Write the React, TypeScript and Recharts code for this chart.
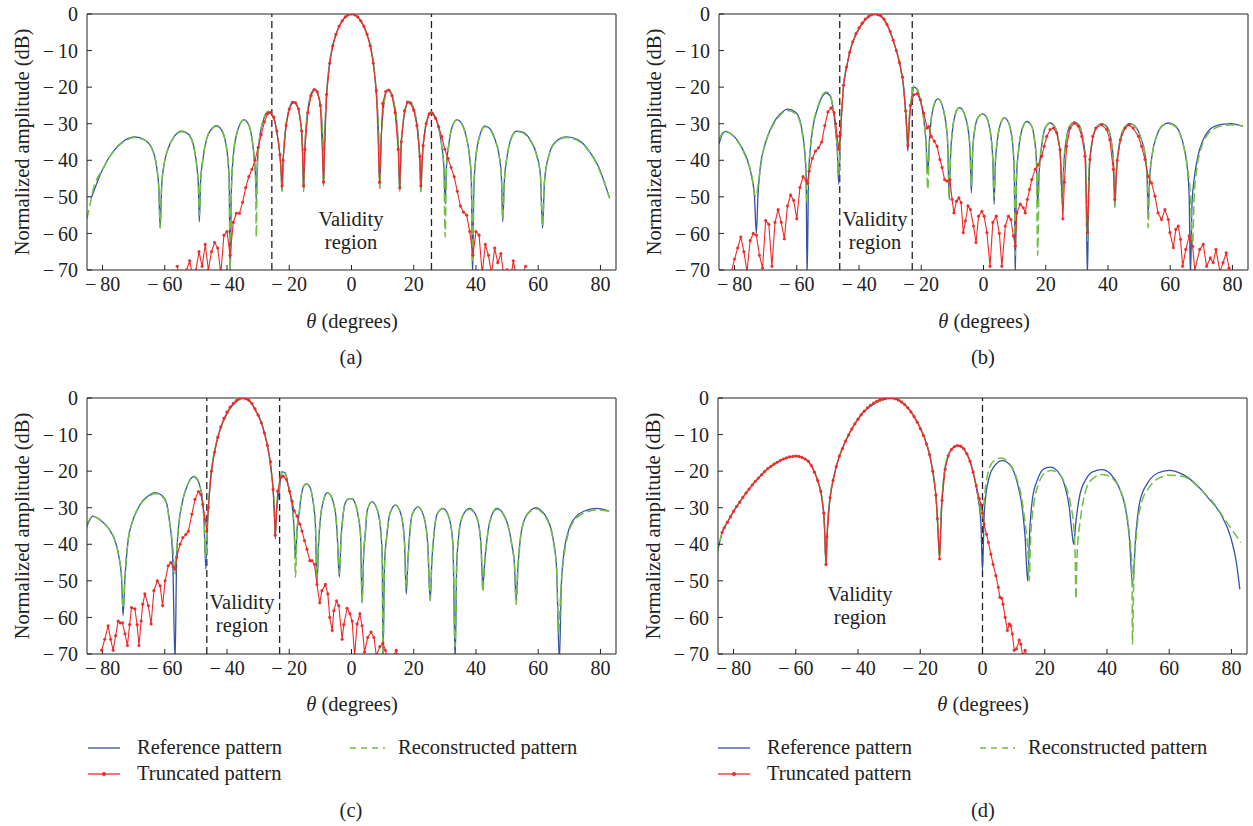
import React from 'react';
import { LineChart, Line, XAxis, YAxis, ReferenceLine } from 'recharts';

type Pt = [number, number]; // [theta (deg), amplitude (dB)]

const X_TICKS = [-80, -60, -40, -20, 0, 20, 40, 60, 80];
const Y_TICKS = [-70, -60, -50, -40, -30, -20, -10, 0];

const BLUE = '#3453a8';
const RED = '#ee2a2a';
const GREEN = '#6fbf45';
const INK = '#222';
const FONT = "'Liberation Serif', 'DejaVu Serif', 'Times New Roman', Times, serif";

// ---------- panel (a) ----------
const refA: Pt[] = [
  [-83.5,-50],[-80,-42.5],[-76.5,-37.5],[-73,-34.6],[-69.6,-33.6],[-66.5,-34.4],[-64,-37],[-62.6,-42],[-61.9,-48],[-61.5,-58.5],
  [-61,-47],[-60.3,-41.5],[-59,-37],[-57,-33.5],[-54.6,-32],[-52.2,-33],[-50.5,-37],[-49.6,-42.5],[-49.2,-47],[-48.9,-56.8],
  [-48.5,-46],[-47.8,-40],[-46.5,-34],[-45,-31.5],[-43.5,-30.5],[-41.8,-31.6],[-40.5,-35],[-39.7,-40],[-39.3,-46],[-39,-72],
  [-38.6,-48],[-38,-39],[-36.8,-32.5],[-35.5,-29.6],[-34.7,-28.9],[-33.2,-30],[-32,-34],[-31.2,-40],[-30.8,-45],[-30.6,-51],
  [-30.3,-42],[-29.6,-34.5],[-28.5,-29.5],[-27.5,-27.4],[-26.6,-26.8],[-25.2,-28],[-24,-32],[-23.2,-37],[-22.7,-42],[-22.3,-48.5],
  [-21.9,-39],[-21.2,-31.5],[-20.2,-26.5],[-19.2,-24.3],[-18.6,-24],[-17.6,-24.8],[-16.7,-27.5],[-16,-32.5],[-15.7,-38],[-15.4,-48.5],
  [-15,-37],[-14.4,-29],[-13.4,-23.2],[-12.5,-21],[-11.7,-20.6],[-10.8,-21.8],[-10,-25],[-9.5,-30],[-9.2,-36],[-9,-47],
  [-8.6,-33],[-8,-22],[-7.2,-14.5],[-6.2,-9.2],[-5,-5.6],[-3.5,-2.6],[-2,-0.8],[0,0],[2,-0.8],[3.5,-2.6],[5,-5.6],[6.2,-9.2],[7.2,-14.5],[8,-22],[8.7,-33],[9.1,-47.7],
  [9.5,-35],[9.9,-29],[10.5,-24],[11.2,-21.2],[11.8,-20.7],[12.8,-21.6],[13.8,-25],[14.6,-30],[15.1,-37],[15.5,-48.4],
  [15.9,-37],[16.5,-30.5],[17.3,-26],[18.4,-23.9],[19.5,-24.8],[20.5,-27.5],[21.3,-32],[21.9,-39],[22.3,-48.6],
  [22.7,-40],[23.4,-33],[24.4,-28.6],[25.5,-27],[26.8,-28],[28,-31],[29,-36],[29.7,-42],[30.1,-52],
  [30.5,-42],[31.3,-35.5],[32.5,-30.5],[33.9,-28.9],[35.3,-29.8],[36.7,-33],[37.8,-38],[38.5,-45],[38.9,-72],
  [39.3,-48],[40,-39],[41.3,-33],[42.9,-30.6],[44.6,-31.5],[46.2,-34.5],[47.5,-39],[48.2,-45],[48.6,-56.8],
  [49.1,-46],[50,-39],[51.3,-34],[53,-32],[55,-32.3],[57.5,-34.5],[59.5,-38.5],[60.7,-44],[61.4,-58.6],
  [62,-46],[63.3,-39],[65.5,-35],[69.1,-33.6],[72.5,-34.3],[76,-37],[79.5,-42],[82.8,-50],
];

const reconA: Pt[] = [
  [-85,-56],[-84,-52],[-83.3,-49],[-80,-42.5],[-76.5,-37.6],[-73,-34.8],[-69.6,-33.8],[-66.5,-34.5],[-64,-37.2],[-62.6,-42],[-61.9,-48],[-61.5,-58.5],
  [-61,-47],[-60.3,-41.5],[-59,-37],[-57,-33.6],[-54.6,-32.2],[-52.2,-33.2],[-50.5,-37.2],[-49.6,-42.5],[-49.2,-47],[-48.9,-55],
  [-48.5,-46],[-47.8,-40],[-46.5,-34],[-45,-31.6],[-43.5,-30.7],[-41.8,-31.8],[-40.5,-35],[-39.7,-40],[-39.3,-46],[-39,-70],
  [-38.6,-48],[-38,-39],[-36.8,-32.5],[-35.5,-29.6],[-34.7,-29],[-33.2,-30],[-32,-34],[-31.2,-40],[-30.8,-46],[-30.6,-61],
  [-30.3,-43],[-29.6,-34.5],[-28.5,-29.3],[-27.5,-27.1],[-26.6,-26.5],[-25.2,-28],[-24,-32],[-23.2,-37],[-22.7,-42],[-22.3,-48.5],
  [-21.9,-39],[-21.2,-31.5],[-20.2,-26.5],[-19.2,-24.3],[-18.6,-24],[-17.6,-24.8],[-16.7,-27.5],[-16,-32.5],[-15.7,-38],[-15.4,-48.5],
  [-15,-37],[-14.4,-29],[-13.4,-23.2],[-12.5,-21],[-11.7,-20.6],[-10.8,-21.8],[-10,-25],[-9.5,-30],[-9.2,-36],[-9,-47],
  [-8.6,-33],[-8,-22],[-7.2,-14.5],[-6.2,-9.2],[-5,-5.6],[-3.5,-2.6],[-2,-0.8],[0,0],[2,-0.8],[3.5,-2.6],[5,-5.6],[6.2,-9.2],[7.2,-14.5],[8,-22],[8.7,-33],[9.1,-47.7],
  [9.5,-35],[9.9,-29],[10.5,-24],[11.2,-21.2],[11.8,-20.7],[12.8,-21.6],[13.8,-25],[14.6,-30],[15.1,-37],[15.5,-48.4],
  [15.9,-37],[16.5,-30.5],[17.3,-26],[18.4,-23.9],[19.5,-24.8],[20.5,-27.5],[21.3,-32],[21.9,-39],[22.3,-48.6],
  [22.7,-40],[23.4,-33],[24.4,-28.4],[25.5,-26.7],[26.8,-27.8],[28,-31],[29,-36],[29.7,-43],[30.1,-61],
  [30.5,-43],[31.3,-35.5],[32.5,-30.5],[33.9,-29],[35.3,-29.9],[36.7,-33],[37.8,-38],[38.5,-45],[38.9,-68],
  [39.3,-48],[40,-39],[41.3,-33.2],[42.9,-30.8],[44.6,-31.7],[46.2,-34.7],[47.5,-39],[48.2,-45],[48.6,-56],
  [49.1,-46],[50,-39],[51.3,-34.2],[53,-32.2],[55,-32.5],[57.5,-34.7],[59.5,-38.7],[60.7,-44],[61.4,-58],
  [62,-46],[63.3,-39.2],[65.5,-35.2],[69.1,-33.8],[72.5,-34.5],[76,-37.2],[79.5,-42.3],[83,-50.5],
];

const truncA: Pt[] = [
  [-56,-69],[-55,-74],[-54,-72],[-53,-70],[-52,-67.5],[-51,-72],[-50,-70],[-49,-65],[-48,-69],[-47,-63],[-46,-70],[-45,-65],[-44,-62.5],[-43,-64],[-42,-71],[-41,-60.5],[-40,-59.5],[-39,-66],[-38,-57],[-37,-54.5],[-36,-54.5],[-35,-51.5],[-34,-47.5],[-33,-44.5],[-32,-42.5],[-31,-40],[-30,-36.5],[-29,-33],[-28,-29.5],[-27,-27.3],
  [-26,-27],[-25,-28.2],[-24,-32],[-23,-38.5],[-22.3,-47],[-22,-40],[-21,-30.5],[-20,-26],[-19,-24.2],[-18,-24.3],[-17,-26],[-16,-32],[-15.4,-47],[-15,-37],[-14,-27],[-13,-22.3],[-12,-20.7],[-11,-21.3],[-10,-25],[-9,-46],[-8,-22],[-7,-13.5],[-6,-8.7],[-5,-5.6],[-4,-3.4],[-3,-1.9],[-2,-0.8],[-1,-0.2],[0,0],
  [1,-0.2],[2,-0.8],[3,-1.9],[4,-3.4],[5,-5.6],[6,-8.7],[7,-13.5],[8,-21],[9,-46],[10,-24.5],[11,-21.2],[12,-20.8],[13,-22.3],[14,-27],[15,-37],[15.5,-47.5],[16,-35],[17,-26.5],[18,-24.1],[19,-24.4],[20,-26.3],[21,-30.5],[22,-39],[22.3,-47],[23,-36],[24,-30],[25,-27.3],[26,-27.2],
  [27,-28.5],[28,-30.8],[29,-33.5],[30,-37],[31,-39.5],[32,-42],[33,-44.5],[34,-48.5],[35,-52.5],[36,-54.2],[37,-55],[38,-59.5],[39,-66],[40,-59.5],[41,-60.5],[42,-71],[43,-63],[44,-66],[45,-71],[46,-64],[47,-68],[48,-65.5],[49,-72],[50,-70],[51,-73],[52,-67.5],[53,-72],[54,-74],[55,-71],[56,-69],
];

// ---------- panel (b) ----------
const refB: Pt[] = [
  [-85,-35.5],[-84,-33],[-83,-32.1],[-81.5,-32.6],[-79.2,-34.4],[-77.5,-36.8],[-76,-39.6],[-74.5,-44.5],[-73.6,-50],[-73,-60],
  [-72.5,-50],[-71.7,-41.6],[-70.5,-36.5],[-69.2,-33],[-67.5,-29.8],[-65.5,-27.5],[-62.9,-26],[-60.5,-26.8],[-59,-29],[-58.2,-32.5],[-57.5,-37],[-57,-44],[-56.7,-72],
  [-56.2,-44],[-55.6,-36.5],[-54.6,-30],[-53.2,-25.5],[-51.8,-22.5],[-50.5,-21.6],[-49.3,-22.4],[-48.4,-25.5],[-47.6,-31],[-47,-37],[-46.5,-46.6],
  [-46.1,-36],[-45.6,-27],[-44.9,-19],[-43.8,-13.8],[-42.8,-9.8],[-41.5,-6.6],[-40.1,-4.2],[-38.5,-2.2],[-37,-0.9],[-35.5,-0.1],[-34.9,0],[-33.5,-0.4],[-32,-1.5],[-30.5,-3.8],[-29.4,-6.2],[-28.3,-9.2],[-27.2,-12.5],[-26.3,-16.5],[-25.6,-20.5],[-25.1,-26],[-24.7,-31],[-24.3,-37.5],
  [-23.9,-30],[-23.4,-25],[-22.8,-21.5],[-22.2,-20],[-21.4,-20.6],[-20.6,-22.5],[-19.8,-25.5],[-19.1,-29.5],[-18.5,-34.5],[-17.9,-43.5],
  [-17.4,-35],[-16.9,-29.5],[-16.1,-25.5],[-15.3,-23.6],[-14.6,-23.2],[-13.7,-24],[-12.8,-26.5],[-12,-30.5],[-11.5,-35.5],[-11,-50.7],
  [-10.6,-39],[-10,-32],[-9.1,-27.5],[-8.3,-25.9],[-7.6,-25.6],[-6.6,-26.4],[-5.6,-28.8],[-4.8,-32.5],[-4.3,-37.5],[-3.9,-48.9],
  [-3.5,-38],[-2.8,-31.5],[-1.7,-28.2],[-0.3,-27.3],[0.8,-28],[1.8,-30.5],[2.6,-35],[3,-40],[3.4,-52],
  [3.8,-41],[4.4,-35],[5.3,-30.5],[6.7,-28.4],[8,-29.6],[8.9,-32.5],[9.6,-38],[9.9,-44],[10.2,-72],
  [10.6,-45],[11.3,-37],[12.4,-31.5],[13.9,-29.4],[15.4,-30.5],[16.4,-34.5],[17,-40],[17.4,-52],
  [17.9,-43],[18.7,-36],[19.9,-31],[21.4,-29.8],[23,-31],[24.1,-34.5],[24.8,-40],[25.3,-50.7],
  [25.8,-41],[26.6,-34.5],[27.8,-30.5],[29.2,-29.6],[30.8,-30.5],[31.9,-34],[32.8,-40],[33.4,-72],
  [33.9,-43],[34.8,-35.5],[36.2,-31.2],[38,-30],[39.8,-31],[41,-34.5],[41.8,-41],[42.2,-52.5],
  [42.7,-43],[43.6,-36],[45,-31.5],[47,-30],[49,-31],[50.6,-34],[52,-39],[52.6,-45],[52.9,-54.4],
  [53.4,-45],[54.3,-38],[55.8,-33],[57.5,-30.5],[59.4,-29.8],[61.5,-30.5],[63.3,-33],[64.7,-37.5],[65.6,-43],[66.1,-50],[66.5,-72],
  [67,-52],[67.8,-44.5],[69,-38.5],[70.5,-34.5],[72.7,-31.6],[75,-30.5],[77.5,-30.1],[79.7,-30],[82,-30.4],[83.4,-30.7],
];

const reconB: Pt[] = [
  [-85,-34.5],[-84,-32.6],[-83,-32],[-81.5,-32.6],[-79.2,-34.6],[-77.5,-37],[-76,-40],[-74.5,-44],[-73.2,-50],
  [-72,-44],[-71,-38.5],[-69.5,-34],[-67.5,-30.2],[-65.5,-27.8],[-62.9,-26.4],[-60.5,-27.2],[-59,-29.5],[-58.2,-33],[-57.3,-40],[-56.7,-51.6],
  [-56.2,-43],[-55.6,-36],[-54.6,-29.6],[-53.2,-25.2],[-51.8,-22.2],[-50.5,-21.3],[-49.3,-22.2],[-48.4,-25.3],[-47.6,-30.5],[-47,-36.5],[-46.5,-44],
  [-46.1,-36],[-45.6,-27],[-44.9,-19],[-43.8,-13.8],[-42.8,-9.8],[-41.5,-6.6],[-40.1,-4.2],[-38.5,-2.2],[-37,-0.9],[-35.5,-0.1],[-34.9,0],[-33.5,-0.4],[-32,-1.5],[-30.5,-3.8],[-29.4,-6.2],[-28.3,-9.2],[-27.2,-12.5],[-26.3,-16.5],[-25.6,-20.5],[-25.1,-26],[-24.7,-31],[-24.3,-36],
  [-23.9,-29],[-23.4,-24.5],[-22.8,-21],[-22.2,-19.5],[-21.4,-20.2],[-20.6,-22.3],[-19.8,-25.5],[-19.1,-29.5],[-18.5,-35],[-17.9,-48],
  [-17.4,-35],[-16.9,-29.5],[-16.1,-25.5],[-15.3,-23.6],[-14.6,-23.2],[-13.7,-24],[-12.8,-26.5],[-12,-30.5],[-11.5,-35.5],[-11,-50],
  [-10.6,-39],[-10,-32],[-9.1,-27.5],[-8.3,-25.9],[-7.6,-25.6],[-6.6,-26.4],[-5.6,-28.8],[-4.8,-32.5],[-4.3,-37.5],[-3.9,-47],
  [-3.5,-38],[-2.8,-31.5],[-1.7,-28.2],[-0.3,-27.3],[0.8,-28],[1.8,-30.5],[2.6,-35],[3,-40],[3.4,-50],
  [3.8,-41],[4.4,-35],[5.3,-30.5],[6.7,-28.4],[8,-29.6],[8.9,-32.5],[9.6,-38],[9.9,-44],[10.2,-66],
  [10.6,-45],[11.3,-37],[12.4,-31.5],[13.9,-29.4],[15.4,-30.5],[16.4,-34.5],[17,-40],[17.4,-66],
  [17.9,-43],[18.7,-36],[19.9,-31],[21.4,-29.8],[23,-31],[24.1,-34.5],[24.8,-40],[25.3,-52],
  [25.8,-41],[26.6,-34.5],[27.8,-30.5],[29.2,-29.6],[30.8,-30.5],[31.9,-34],[32.8,-40],[33.4,-62],
  [33.9,-43],[34.8,-35.5],[36.2,-31.2],[38,-30],[39.8,-31],[41,-34.5],[41.8,-41],[42.2,-53],
  [42.7,-43],[43.6,-36],[45,-31.5],[47,-30],[49,-31],[50.6,-34],[52,-39],[52.6,-45],[52.9,-58.5],
  [53.4,-45],[54.3,-38],[55.8,-33],[57.5,-30.6],[59.4,-30],[61.5,-30.7],[63.3,-33.2],[64.7,-37.8],[65.6,-42.5],[66.4,-48],[67.2,-63],
  [67.7,-50],[68.6,-42],[70,-36.5],[72,-33],[74.5,-31.2],[77.5,-30.5],[80,-30.3],[83.4,-30.6],
];

const truncB: Pt[] = [
  [-81,-70.5],[-80,-67],[-79,-64],[-78,-61],[-77,-65],[-76,-70.5],[-75,-62],[-74,-60],[-73,-60.5],[-72,-66],[-71,-69.5],[-70,-56.5],[-69,-57.5],[-68,-69],[-67,-57],[-66,-53.5],[-65,-57],[-64,-61.5],[-63,-52.5],[-62,-49.5],[-61,-51],[-60,-56],[-59,-47.5],[-58,-44.5],[-57,-45.5],[-56.5,-46.3],[-56,-43],[-55,-39.5],[-54,-37.5],[-53,-36.6],[-52,-35],[-51,-30.5],[-50,-26.8],[-49,-25.7],[-48,-27],[-47.5,-30],[-47,-33.5],[-46.5,-37],
  [-46,-33],[-45,-19.5],[-44,-14.5],[-43,-10.5],[-42,-7.6],[-41,-5.4],[-40,-3.8],[-39,-2.5],[-38,-1.4],[-37,-0.7],[-36,-0.2],[-35,0],[-34,-0.2],[-33,-0.5],[-32,-1.4],[-31,-2.9],[-30,-4.8],[-29,-7.2],[-28,-10],[-27,-13.3],[-26,-17.3],[-25,-26.5],[-24.3,-36],
  [-23.5,-25],[-22.4,-22.1],[-21.3,-21.8],[-20.3,-23.5],[-19.2,-27.1],[-18.1,-31.2],[-17.6,-30.8],[-16.8,-33.5],[-15.8,-34.8],[-14.9,-36.2],[-14,-39.8],[-13.3,-42],[-12.5,-45.3],[-11.7,-45.7],[-10.8,-45.3],[-10.1,-50.7],[-9.5,-54.4],[-8.7,-51.2],[-7.9,-50.3],[-7.2,-51.6],[-6.5,-59.8],[-5.8,-56.6],[-5,-52.5],[-4.2,-53.5],[-3.2,-58],[-2.4,-62.5],[-1.6,-55.3],[-0.5,-54],[0.2,-55.3],[1.1,-59.8],[2.1,-69],[3,-57],[4.1,-55.3],[5.1,-60],[5.9,-69],[7,-58],[8,-55.3],[8.8,-56.2],[9.6,-60.7],[10.2,-63.5],[10.7,-54.4],[11.8,-52],[12.8,-53],[13.4,-54.4],[14.1,-50.7],[14.8,-48],[15.5,-45.3],[16.6,-42.5],[17.6,-41.2],[18.7,-38.9],[19.5,-36.2],[20.3,-33.5],[21.4,-31.6],[22.5,-31.2],[23.5,-32.5],[24.6,-37.1],[25.5,-56],[26,-46],[26.7,-36.2],[27.8,-31.2],[29.2,-29.8],[30.5,-30.7],[31.6,-33.5],[32.6,-38.9],[33.4,-59.8],[34.2,-39.8],[35.1,-33.5],[36.1,-31.2],[38,-30.3],[39.6,-31.6],[40.6,-34.4],[41.7,-42.5],[42.2,-50.7],[43,-40],[44,-34.4],[45.5,-31.2],[46.8,-30.3],[48.1,-31.2],[49.8,-33.5],[50.8,-36.2],[51.9,-39.8],[52.9,-44.4],[54,-46.2],[55.1,-49.8],[56.1,-54.4],[57.2,-56.2],[58.3,-53.5],[59.4,-56.2],[59.9,-59.8],[61,-63.9],[61.8,-58.9],[62.6,-58],[63.3,-61.6],[64,-69],[65,-64.4],[66.1,-60.7],[67.2,-63.5],[67.9,-70],[69.5,-64.4],[70.6,-63],[71.7,-69],[72.9,-66.7],[73.8,-68],[74.7,-64.4],[76,-70.5],[77,-68],[78,-65.3],[78.9,-69.5],[80,-71],
];

// ---------- panel (c) ----------
const refC: Pt[] = [
  [-85.2,-35.5],[-84,-33.2],[-83.2,-32.3],[-81,-33.2],[-78.2,-35.5],[-76,-39],[-74.7,-43.6],[-73.9,-49],[-73.4,-59.5],
  [-72.8,-49],[-71.8,-39],[-70.5,-34],[-69.2,-31.2],[-67,-28],[-65,-26.6],[-63.2,-25.9],[-61,-26.6],[-59.5,-28.5],[-58.5,-33.6],[-57.5,-42.7],[-56.7,-72],
  [-56.2,-44],[-55.6,-35.5],[-54.5,-29],[-53,-24.5],[-50.8,-21.5],[-49.5,-22.4],[-48.7,-24.1],[-47.9,-28],[-47.4,-33.5],[-46.8,-46.8],
  [-46.4,-37],[-46,-30],[-45.4,-23],[-44.9,-19],[-43.8,-13.8],[-42.7,-10],[-41.4,-6.8],[-40.1,-4.5],[-38.8,-2.6],[-37.4,-1.3],[-36,-0.3],[-34.9,0],[-33.5,-0.4],[-32,-1.6],[-30.6,-3.8],[-29.3,-5.9],[-28.2,-8.8],[-27.2,-12.3],[-26.4,-16.2],[-25.8,-20],[-25.2,-25],[-24.8,-30.5],[-24.5,-38.5],
  [-24.1,-31],[-23.4,-26.4],[-22.8,-22],[-22.1,-20.2],[-21.3,-20.6],[-20.7,-22.5],[-19.9,-25.5],[-19.1,-29.3],[-18.4,-36.4],[-18,-44],
  [-17.5,-36],[-17,-32.7],[-16.1,-26.4],[-15.3,-24],[-14.5,-23.5],[-13.6,-24],[-12.7,-26.4],[-12,-30.5],[-11.6,-34.5],[-11.1,-51],
  [-10.6,-40],[-10,-33],[-9,-28],[-7.8,-25.9],[-6.7,-26.6],[-5.7,-29.1],[-5,-32.5],[-4.6,-37.3],[-3.9,-49],
  [-3.4,-39],[-2.7,-32],[-1.9,-28.5],[-0.7,-27.5],[0.3,-27.6],[1.3,-29.1],[2.3,-33],[2.9,-37.3],[3.4,-56],
  [3.9,-43],[4.5,-36.4],[5,-31],[6.6,-28.4],[8.4,-30.9],[9.5,-37.3],[9.9,-45],[10.1,-72],
  [10.6,-46],[11.4,-37.3],[12.3,-31.8],[14.1,-29.3],[15.9,-31.8],[17,-39],[17.6,-53.6],
  [18.1,-45],[18.7,-37.3],[19.5,-31.8],[21.4,-29.8],[23.2,-32.3],[24.5,-40],[25.3,-55.5],
  [25.8,-45],[26.4,-38.2],[27.5,-31.8],[29.4,-30.2],[31.2,-32.3],[32.6,-40],[33.3,-72],
  [33.8,-46],[34.4,-38.2],[35.5,-32.7],[37.9,-30.2],[40.3,-32.7],[41.6,-40],[42.2,-51.4],
  [42.8,-45],[43.5,-39],[44.5,-33.6],[46.7,-30.2],[49.4,-32.7],[51.5,-40],[52.4,-46],[52.9,-55.5],
  [53.5,-46],[54.2,-39],[55.4,-33.6],[57.5,-30.8],[59.3,-30],[61.2,-31],[62.7,-32.7],[64.9,-39],[65.9,-46.4],[66.8,-72],
  [67.4,-52],[68.1,-43.6],[69.7,-36.4],[72.3,-32.3],[75.5,-30.7],[78.7,-30.2],[82.8,-30.9],
];

const reconC: Pt[] = [
  [-85.2,-35],[-84,-33],[-83.2,-32.3],[-81,-33.2],[-78.2,-35.5],[-76,-39],[-74.7,-43.6],[-73.9,-49],[-73.4,-57.5],
  [-72.8,-49],[-71.8,-39],[-70.5,-34],[-69.2,-31.2],[-67,-28.2],[-65,-26.8],[-63.2,-26.1],[-61,-26.8],[-59.5,-28.7],[-58.5,-33.6],[-57.5,-40],[-56.7,-48.2],
  [-56.2,-42],[-55.6,-35.5],[-54.5,-29],[-53,-24.5],[-50.8,-21.3],[-49.5,-22.2],[-48.7,-24.1],[-47.9,-28],[-47.4,-33.5],[-46.8,-44],
  [-46.4,-37],[-46,-30],[-45.4,-23],[-44.9,-19],[-43.8,-13.8],[-42.7,-10],[-41.4,-6.8],[-40.1,-4.5],[-38.8,-2.6],[-37.4,-1.3],[-36,-0.3],[-34.9,0],[-33.5,-0.4],[-32,-1.6],[-30.6,-3.8],[-29.3,-5.9],[-28.2,-8.8],[-27.2,-12.3],[-26.4,-16.2],[-25.8,-20],[-25.2,-25],[-24.8,-30.5],[-24.5,-37],
  [-24.1,-30],[-23.4,-25.5],[-22.8,-21.5],[-22.1,-19.8],[-21.3,-20.3],[-20.7,-22.3],[-19.9,-25.5],[-19.1,-29.3],[-18.4,-36.4],[-18,-49],
  [-17.5,-36],[-17,-32.7],[-16.1,-26.4],[-15.3,-24],[-14.5,-23.5],[-13.6,-24],[-12.7,-26.4],[-12,-30.5],[-11.6,-34.5],[-11.1,-50],
  [-10.6,-40],[-10,-33],[-9,-28],[-7.8,-25.9],[-6.7,-26.6],[-5.7,-29.1],[-5,-32.5],[-4.6,-37.3],[-3.9,-48],
  [-3.4,-39],[-2.7,-32],[-1.9,-28.5],[-0.7,-27.5],[0.3,-27.6],[1.3,-29.1],[2.3,-33],[2.9,-37.3],[3.4,-56],
  [3.9,-43],[4.5,-36.4],[5,-31],[6.6,-28.4],[8.4,-30.9],[9.5,-37.3],[9.9,-45],[10.1,-70],
  [10.6,-46],[11.4,-37.3],[12.3,-31.8],[14.1,-29.3],[15.9,-31.8],[17,-39],[17.6,-52],
  [18.1,-45],[18.7,-37.3],[19.5,-31.8],[21.4,-29.8],[23.2,-32.3],[24.5,-40],[25.3,-55],
  [25.8,-45],[26.4,-38.2],[27.5,-31.8],[29.4,-30.3],[31.2,-32.4],[32.6,-40],[33.3,-68],
  [33.8,-46],[34.4,-38.2],[35.5,-32.8],[37.9,-30.4],[40.3,-32.9],[41.6,-40],[42.2,-53],
  [42.8,-45],[43.5,-39],[44.5,-33.8],[46.7,-30.4],[49.4,-32.9],[51.5,-40],[52.4,-46],[52.9,-56.5],
  [53.5,-46],[54.2,-39],[55.4,-33.8],[57.5,-31],[59.3,-30.3],[61.2,-31.3],[62.7,-33],[64.9,-39.5],[65.9,-47],[66.6,-64],
  [67.3,-52],[68.1,-44.5],[69.7,-37],[72.3,-32.8],[75.5,-31.2],[78.7,-30.6],[82.8,-31],
];

const truncC: Pt[] = [
  [-80.3,-69],[-79.3,-66],[-78.2,-62.3],[-77.4,-66],[-76.6,-69],[-75.8,-65],[-75,-61],[-74.3,-61.5],[-73.6,-61.5],[-72.8,-64.5],[-72,-67.7],[-71.3,-62],[-70.7,-57.3],[-69.6,-57.7],[-68.9,-62],[-68.3,-67.7],[-67.6,-61],[-67.1,-56.4],[-66.4,-53.6],[-65.3,-56.8],[-64.4,-61.8],[-63.5,-52.7],[-62.4,-50],[-61.5,-51.4],[-60.7,-56.8],[-59.9,-50],[-58.9,-45.9],[-58.1,-45],[-57.3,-46.2],[-56.7,-46.8],[-56.2,-43.6],[-55.1,-40],[-54.2,-38.2],[-53.2,-37.3],[-52.4,-36.4],[-51.3,-31.8],[-50.3,-27.7],[-49.2,-25.6],[-48.4,-26.4],[-47.8,-29.1],[-47,-33.2],[-46.5,-36.4],
  [-46,-30],[-45,-20],[-44,-14.8],[-43,-10.8],[-42,-7.9],[-41,-5.6],[-40,-3.9],[-39,-2.5],[-38,-1.5],[-37,-0.7],[-36,-0.2],[-35,0],[-34,-0.2],[-33,-0.6],[-32,-1.5],[-31,-3],[-30,-4.7],[-29,-6.8],[-28,-9.6],[-27,-13],[-26,-17.5],[-25.2,-25],[-24.5,-37.5],
  [-23.7,-25.5],[-22.9,-21.8],[-22,-21.4],[-20.9,-22.3],[-19.9,-25.5],[-19.1,-28.2],[-18.4,-30.9],[-17.5,-32.3],[-16.6,-34.5],[-15.9,-36.4],[-15.1,-39],[-14.3,-41.4],[-13.4,-44.5],[-12.7,-44.5],[-11.9,-45.5],[-11.1,-51],[-10.2,-56],[-9.5,-52.7],[-8.4,-51],[-7.6,-53.6],[-7,-60],[-6.2,-63.6],[-5.7,-58.2],[-4.8,-55.5],[-4.1,-56.8],[-3,-66],[-2.5,-62],[-1.4,-57.5],[-0.5,-59],[0.2,-61],[1,-70.5],[1.8,-61.8],[2.7,-59],[3.4,-62.3],[4.2,-69.5],[5.2,-65.5],[6.3,-64],[7.2,-65.5],[8,-70.5],[9.1,-68],[10.1,-67],[10.9,-69],[11.4,-71],[12.5,-72],[14.4,-69],[15,-71],
];

// ---------- panel (d) ----------
const refD: Pt[] = [
  [-85.4,-42.7],[-84.5,-39.5],[-83.7,-36.8],[-82,-34],[-80.3,-31.4],[-77.1,-27.3],[-73.8,-23.6],[-70.1,-20.2],[-66.3,-17.7],[-63.1,-16.4],[-59.9,-15.9],[-56.7,-16.8],[-54.6,-19.1],[-52.9,-22.7],[-51.6,-27.3],[-50.8,-34.5],[-50.3,-45.9],
  [-49.8,-35],[-49,-27.3],[-47.6,-20.9],[-46,-15.9],[-43.8,-11.4],[-41.2,-7.3],[-38.5,-4.1],[-35.3,-1.8],[-32,-0.5],[-29.6,0],[-26.7,-0.7],[-23.5,-3.2],[-20.8,-6.8],[-18.6,-10.9],[-17,-15.5],[-15.8,-20.9],[-14.9,-27.3],[-14.4,-34.5],[-13.8,-43.6],
  [-13.3,-32],[-12.2,-20],[-11.1,-15.9],[-9.5,-13.6],[-7.6,-13],[-5.8,-14.1],[-4.2,-16.8],[-2.6,-21.8],[-1.6,-26.4],[-0.5,-34.5],[0,-47.3],
  [0.5,-32.7],[1.1,-26.4],[2.1,-21.8],[3.8,-18.6],[6.4,-17.1],[9.1,-18.6],[11.3,-23.6],[12.9,-30.9],[13.7,-38.2],[14.5,-50],
  [15.2,-36],[16.1,-27.3],[17.7,-22.3],[19.5,-19.5],[21.8,-18.9],[24.1,-20],[26.3,-23.6],[27.9,-30],[28.7,-36.4],[29.3,-40],
  [30,-34],[31.1,-27.3],[33.2,-22.3],[35.4,-20.2],[38.4,-19.6],[41.3,-20.9],[43.9,-24.5],[46.1,-30.9],[47.2,-38.2],[48.2,-50.9],
  [49.3,-37],[50.6,-28.2],[53.1,-23.2],[56.3,-20.5],[60,-19.8],[64.3,-20.9],[68.6,-23.6],[72.9,-27.7],[76.6,-31.8],[79.8,-38.2],[81.5,-44.5],[82.7,-52.3],
];

const reconD: Pt[] = [
  [-85.4,-42.7],[-84.5,-39.5],[-83.7,-36.8],[-82,-34],[-80.3,-31.4],[-77.1,-27.3],[-73.8,-23.6],[-70.1,-20.2],[-66.3,-17.7],[-63.1,-16.4],[-59.9,-15.9],[-56.7,-16.8],[-54.6,-19.1],[-52.9,-22.7],[-51.6,-27.3],[-50.8,-34.5],[-50.3,-45.9],
  [-49.8,-35],[-49,-27.3],[-47.6,-20.9],[-46,-15.9],[-43.8,-11.4],[-41.2,-7.3],[-38.5,-4.1],[-35.3,-1.8],[-32,-0.5],[-29.6,0],[-26.7,-0.7],[-23.5,-3.2],[-20.8,-6.8],[-18.6,-10.9],[-17,-15.5],[-15.8,-20.9],[-14.9,-27.3],[-14.4,-34.5],[-13.8,-43.6],
  [-13.3,-32],[-12.2,-20],[-11.1,-15.9],[-9.5,-13.6],[-7.6,-13],[-5.8,-14.1],[-4.2,-16.8],[-2.6,-21.8],[-1.6,-26],[-0.8,-29.5],[-0.2,-33],
  [0.3,-30],[1,-24],[2,-19.8],[3.5,-17.3],[5.9,-16.4],[8.5,-17.8],[10.8,-21.5],[12.6,-27.5],[13.8,-35],[14.6,-42],[15,-50],
  [15.5,-38],[16.5,-29],[18,-23.5],[20,-20.5],[22,-19.8],[24.5,-20.6],[26.5,-23.5],[28.3,-29],[29.4,-36],[29.8,-44],[30,-55],
  [30.4,-43],[31.5,-33],[33.3,-25],[35.5,-22],[38.6,-20.9],[41.5,-21.8],[44,-24.8],[46,-30],[47.3,-38],[48,-46],[48.2,-67.3],
  [48.6,-50],[49.5,-37],[51,-29],[53.5,-24.5],[56.5,-22],[60,-21.1],[64.5,-21.5],[70.7,-25.5],[74.5,-29],[78.2,-33.6],[81,-37],[83,-39.5],
];

const truncD: Pt[] = [
  [-83.7,-36.8],[-83,-35.5],[-82,-34],[-81,-32.5],[-80,-31],[-79,-29.7],[-78,-28.5],[-77,-27.2],[-76,-26],[-75,-24.9],[-74,-23.8],[-73,-22.8],[-72,-21.9],[-71,-21],[-70,-20.1],[-69,-19.3],[-68,-18.7],[-67,-18.1],[-66,-17.6],[-65,-17.1],[-64,-16.7],[-63,-16.4],[-62,-16.1],[-61,-16],[-60,-15.9],[-59,-16],[-58,-16.3],[-57,-16.7],[-56,-17.3],[-55,-18.5],[-54,-20.3],[-53,-22.5],[-52,-25.5],[-51,-31.5],[-50.3,-45.5],
  [-50,-38],[-49,-27.3],[-48,-22.5],[-47,-18.8],[-46,-15.9],[-45,-13.9],[-44,-11.8],[-43,-10.1],[-42,-8.5],[-41,-7.1],[-40,-5.8],[-39,-4.6],[-38,-3.6],[-37,-2.7],[-36,-2],[-35,-1.4],[-34,-0.9],[-33,-0.5],[-32,-0.3],[-31,-0.1],[-30,0],[-29,0],[-28,-0.2],[-27,-0.6],[-26,-1.1],[-25,-1.8],[-24,-2.7],[-23,-3.8],[-22,-5.1],[-21,-6.6],[-20,-8.4],[-19,-10.3],[-18,-12.6],[-17,-15.5],[-16,-20],[-15,-26.5],[-14.5,-33],[-13.8,-44],
  [-13,-28],[-12,-19.5],[-11,-15.8],[-10,-14.1],[-9,-13.3],[-8,-13],[-7,-13.2],[-6,-13.9],[-5,-15.3],[-4,-17.3],[-3,-20.3],[-2,-24],[-1,-27.5],[-0.5,-29.1],[0,-31.5],
  [0.5,-34.5],[1.3,-37.3],[1.9,-39.5],[2.7,-42.7],[3.4,-45.5],[4.3,-48.6],[5.1,-51.8],[5.6,-54.5],[6.2,-54.8],[6.6,-56.4],[7.3,-60],[8,-63.6],[8.6,-61.8],[9.1,-62.3],[9.6,-64.5],[10.2,-69],[10.9,-68.6],[11.8,-66.2],[12.3,-67.3],[12.9,-70.5],[13.7,-69],[14.5,-71],
];

const toRows = (pts: Pt[]) => pts.map(([t, db]) => ({ t, db }));
const fmt = (v: number) => (v < 0 ? `\u2212\u2009${-v}` : `${v}`);
const tickFont = { fontFamily: FONT, fontSize: 20, fill: INK };

// chart box: plot area spans x 87..616, y 14..270 inside a 622 x 300 chart
const CW = 622;
const CH = 300;

interface PanelProps {
  left: number;
  top: number;
  reference: Pt[];
  reconstructed: Pt[];
  truncated: Pt[];
  bounds: number[];
}

const Panel = ({ left, top, reference, reconstructed, truncated, bounds }: PanelProps) => (
  <div style={{ position: 'absolute', left, top, fontFamily: FONT }}>
    <LineChart width={CW} height={CH} margin={{ top: 13, right: 5, bottom: 0, left: 0 }} style={{ fontFamily: FONT }}>
      <XAxis
        dataKey="t" type="number" domain={[-85, 85]} ticks={X_TICKS} allowDataOverflow
        height={30} tickSize={-5} tickMargin={12} tickFormatter={fmt} tick={tickFont}
        axisLine={{ stroke: INK }} tickLine={{ stroke: INK }}
      />
      <XAxis
        xAxisId="top" orientation="top" type="number" domain={[-85, 85]} ticks={X_TICKS} allowDataOverflow
        height={1} tickSize={-5} tick={false} axisLine={{ stroke: INK }} tickLine={{ stroke: INK }}
      />
      <YAxis
        type="number" domain={[-70, 0]} ticks={Y_TICKS} allowDataOverflow
        width={87} tickSize={-5} tickMargin={14} tickFormatter={fmt} tick={tickFont}
        axisLine={{ stroke: INK }} tickLine={{ stroke: INK }}
      />
      <YAxis
        yAxisId="right" orientation="right" type="number" domain={[-70, 0]} ticks={Y_TICKS} allowDataOverflow
        width={1} tickSize={-5} tick={false} axisLine={{ stroke: INK }} tickLine={{ stroke: INK }}
      />
      {bounds.map((b) => (
        <ReferenceLine key={b} x={b} stroke={INK} strokeWidth={1.3} strokeDasharray="7 4" />
      ))}
      <Line
        data={toRows(reference)} dataKey="db" type="monotone" stroke={BLUE} strokeWidth={1.3}
        dot={false} isAnimationActive={false}
      />
      <Line
        data={toRows(reconstructed)} dataKey="db" type="monotone" stroke={GREEN} strokeWidth={1.5}
        strokeDasharray="9 4" dot={false} isAnimationActive={false}
      />
      <Line
        data={toRows(truncated)} dataKey="db" type="linear" stroke={RED} strokeWidth={1.1}
        dot={{ r: 1.4, fill: RED, stroke: RED, strokeWidth: 0.3 }} isAnimationActive={false}
      />
    </LineChart>
  </div>
);

const textBase: React.CSSProperties = {
  position: 'absolute',
  whiteSpace: 'nowrap',
  fontFamily: FONT,
  fontSize: 20.5,
  lineHeight: '23px',
  color: INK,
  textAlign: 'center',
};

const Txt = ({ x, y, rotate, children }: { x: number; y: number; rotate?: boolean; children: React.ReactNode }) => (
  <div style={{ ...textBase, left: x, top: y, transform: `translate(-50%, -50%)${rotate ? ' rotate(-90deg)' : ''}` }}>
    {children}
  </div>
);

const XTitle = () => (
  <>
    <i>θ</i> (degrees)
  </>
);

const Sample = ({ x, y, kind }: { x: number; y: number; kind: 'ref' | 'trunc' | 'recon' }) => (
  <svg style={{ position: 'absolute', left: x, top: y - 5 }} width={36} height={10}>
    {kind === 'ref' && <line x1={0} y1={5} x2={32} y2={5} stroke={BLUE} strokeWidth={1.3} />}
    {kind === 'trunc' && (
      <>
        <line x1={0} y1={5} x2={32} y2={5} stroke={RED} strokeWidth={1.3} />
        <circle cx={16} cy={5} r={2} fill={RED} />
      </>
    )}
    {kind === 'recon' && <line x1={0} y1={5} x2={35} y2={5} stroke={GREEN} strokeWidth={1.5} strokeDasharray="6 5" />}
  </svg>
);

const LegendText = ({ x, y, children }: { x: number; y: number; children: React.ReactNode }) => (
  <div style={{ ...textBase, textAlign: 'left', left: x, top: y, transform: 'translateY(-50%)' }}>{children}</div>
);

const Legend = ({ x, greenX }: { x: number; greenX: number }) => (
  <>
    <Sample x={x} y={748} kind="ref" />
    <LegendText x={x + 49} y={747}>Reference pattern</LegendText>
    <Sample x={x} y={774} kind="trunc" />
    <LegendText x={x + 49} y={773}>Truncated pattern</LegendText>
    <Sample x={greenX} y={748} kind="recon" />
    <LegendText x={greenX + 48} y={747}>Reconstructed pattern</LegendText>
  </>
);

export default function App() {
  return (
    <div style={{ position: 'absolute', left: 0, top: 0, width: 1253, height: 826, overflow: 'hidden', background: '#fff', fontFamily: FONT }}>
      <Panel left={0} top={0} reference={refA} reconstructed={reconA} truncated={truncA} bounds={[-25.6, 25.7]} />
      <Panel left={632} top={0} reference={refB} reconstructed={reconB} truncated={truncB} bounds={[-46.2, -22.9]} />
      <Panel left={0} top={384} reference={refC} reconstructed={reconC} truncated={truncC} bounds={[-46.5, -23.1]} />
      <Panel left={631} top={384} reference={refD} reconstructed={reconD} truncated={truncD} bounds={[0]} />

      <Txt x={22} y={142} rotate>Normalized amplitude (dB)</Txt>
      <Txt x={654} y={142} rotate>Normalized amplitude (dB)</Txt>
      <Txt x={22} y={526} rotate>Normalized amplitude (dB)</Txt>
      <Txt x={653} y={526} rotate>Normalized amplitude (dB)</Txt>

      <Txt x={352} y={321}><XTitle /></Txt>
      <Txt x={984} y={321}><XTitle /></Txt>
      <Txt x={352} y={704}><XTitle /></Txt>
      <Txt x={983} y={704}><XTitle /></Txt>

      <Txt x={351} y={231}>Validity<br />region</Txt>
      <Txt x={875} y={231}>Validity<br />region</Txt>
      <Txt x={242} y={614}>Validity<br />region</Txt>
      <Txt x={860} y={606}>Validity<br />region</Txt>

      <Legend x={88} greenX={350} />
      <Legend x={718} greenX={980} />

      <Txt x={351} y={357}>(a)</Txt>
      <Txt x={983} y={357}>(b)</Txt>
      <Txt x={351} y={810}>(c)</Txt>
      <Txt x={983} y={810}>(d)</Txt>
    </div>
  );
}
